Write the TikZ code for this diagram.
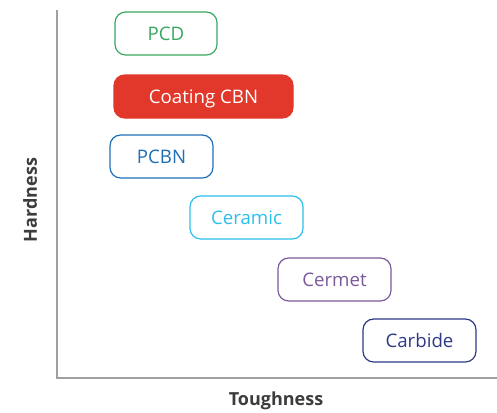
\documentclass[tikz,border=0pt]{standalone}
\usepackage{fontspec}
\setmainfont{Open Sans}
\usetikzlibrary{positioning}
\definecolor{pcdcolor}{RGB}{58,168,96}
\definecolor{coatcolor}{RGB}{226,56,43}
\definecolor{pcbncolor}{RGB}{31,111,184}
\definecolor{ceramiccolor}{RGB}{46,190,238}
\definecolor{cermetcolor}{RGB}{123,90,155}
\definecolor{carbidecolor}{RGB}{46,58,135}
\definecolor{axiscolor}{RGB}{160,160,160}
\definecolor{labelcolor}{RGB}{60,60,60}

\begin{document}
\begin{tikzpicture}[
    x=0.75pt, y=-0.75pt,
    tool/.style={rectangle, rounded corners=8pt, draw, line width=0.9pt, font=\fontsize{14}{16}\selectfont, align=center, minimum width=84.75pt, minimum height=32.25pt, inner sep=0pt, text height=10pt, text depth=0pt, fill=white},
    axis/.style={line width=1.2pt, draw=axiscolor},
    axislabel/.style={font=\fontsize{13.5}{16}\selectfont\bfseries, text=labelcolor}
]
\useasboundingbox (0,0) rectangle (497,412);

% Axes
\coordinate (origin) at (57,378);
\coordinate (ytop) at (57,10);
\coordinate (xend) at (497,378);
\draw[axis] (ytop) -- (origin) -- (xend);

% Tool materials
\node[tool, draw=pcdcolor, text=pcdcolor, minimum width=76.5pt] (pcd) at (166,33.5) {PCD};
\node[tool, draw=coatcolor, fill=coatcolor, text=white, minimum width=134.25pt] (coating) at (203.5,96.5) {Coating CBN};
\node[tool, draw=pcbncolor, text=pcbncolor, minimum width=77.25pt] (pcbn) at (161.5,156.5) {PCBN};
\node[tool, draw=ceramiccolor, text=ceramiccolor] (ceramic) at (246.5,217.5) {Ceramic};
\node[tool, draw=cermetcolor, text=cermetcolor] (cermet) at (334.5,279.5) {Cermet};
\node[tool, draw=carbidecolor, text=carbidecolor] (carbide) at (419.5,340.5) {Carbide};

% Axis labels
\node[axislabel] (toughness) at (276,401) {Toughness};
\node[axislabel, rotate=90] (hardness) at (30,200) {Hardness};

\end{tikzpicture}
\end{document}
